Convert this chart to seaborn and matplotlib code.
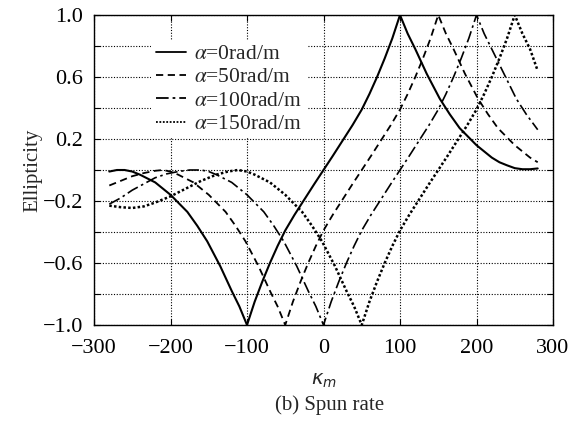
import numpy as np
import pandas as pd
import matplotlib
matplotlib.use("Agg")
import matplotlib.pyplot as plt
import seaborn as sns

# values
kappa_a0 = [-280, -270, -260, -250, -240, -230, -220, -210, -200, -190, -178, -165, -152, -135, -120, -110, -100,
            -90, -80, -70, -60, -50, -38, -25, -12, 0, 12, 25, 38, 50, 60, 70, 80, 90, 100,
            110, 120, 135, 152, 165, 178, 190, 200, 210, 220, 230, 240, 250, 260, 270, 280]
ell_a0 = [-0.01, 0.0, 0.0, -0.01, -0.03, -0.055, -0.08, -0.12, -0.16, -0.21, -0.27, -0.36, -0.46, -0.62, -0.78, -0.88, -1.0,
          -0.85, -0.72, -0.6, -0.49, -0.39, -0.29, -0.19, -0.09, 0.0, 0.09, 0.19, 0.29, 0.39, 0.49, 0.6, 0.72, 0.85, 1.0,
          0.88, 0.78, 0.62, 0.46, 0.36, 0.27, 0.21, 0.16, 0.12, 0.08, 0.05, 0.03, 0.012, 0.005, 0.005, 0.01]

kappa_a50 = [-280, -265, -250, -235, -220, -210, -200, -190, -180, -170, -160, -150, -140, -128, -115, -102, -85, -70, -60, -50,
             -40, -30, -20, -10, 0, 12, 25, 38, 50, 62, 75, 88, 100, 110, 120, 130, 140, 150,
             160, 170, 185, 202, 215, 228, 240, 250, 260, 270, 280]
ell_a50 = [-0.10, -0.07, -0.04, -0.02, -0.005, 0.0, -0.01, -0.03, -0.055, -0.08, -0.12, -0.16, -0.21, -0.27, -0.36, -0.46, -0.62, -0.78, -0.88, -1.0,
           -0.85, -0.72, -0.6, -0.49, -0.39, -0.29, -0.19, -0.09, 0.0, 0.09, 0.19, 0.29, 0.39, 0.49, 0.6, 0.72, 0.85, 1.0,
           0.88, 0.78, 0.62, 0.46, 0.36, 0.27, 0.21, 0.16, 0.12, 0.08, 0.05]

kappa_a100 = [-280, -265, -250, -235, -220, -205, -190, -175, -160, -150, -140, -130, -120, -110, -100, -90, -78, -65, -52, -35, -20, -10, 0,
              10, 20, 30, 40, 50, 62, 75, 88, 100, 112, 125, 138, 150, 160, 170, 180, 190, 200,
              210, 220, 236, 252, 265, 280]
ell_a100 = [-0.22, -0.18, -0.13, -0.09, -0.05, -0.025, -0.01, 0.0, 0.0, -0.01, -0.03, -0.055, -0.08, -0.12, -0.16, -0.21, -0.27, -0.36, -0.46, -0.62, -0.78, -0.88, -1.0,
            -0.85, -0.72, -0.6, -0.49, -0.39, -0.29, -0.19, -0.09, 0.0, 0.09, 0.19, 0.29, 0.39, 0.49, 0.6, 0.72, 0.85, 1.0,
            0.88, 0.78, 0.62, 0.46, 0.36, 0.26]

kappa_a150 = [-280, -265, -250, -235, -220, -200, -180, -160, -140, -125, -112, -100, -90, -80, -70, -60, -50,
              -40, -28, -15, -2, 15, 30, 40, 50, 60, 70, 80, 90, 100, 112, 125, 138, 150, 162, 175, 188, 200,
              210, 220, 230, 240, 250, 260, 270, 280]
ell_a150 = [-0.23, -0.24, -0.245, -0.235, -0.21, -0.17, -0.12, -0.07, -0.03, -0.01, 0.0, -0.01, -0.03, -0.055, -0.08, -0.12, -0.16,
            -0.21, -0.27, -0.36, -0.46, -0.62, -0.78, -0.88, -1.0, -0.85, -0.72, -0.6, -0.49, -0.39, -0.29, -0.19, -0.09, 0.0, 0.09, 0.19, 0.29, 0.39,
            0.49, 0.6, 0.72, 0.85, 1.0, 0.88, 0.78, 0.64]

series_labels = [r"$\alpha$=0rad/m", r"$\alpha$=50rad/m", r"$\alpha$=100rad/m", r"$\alpha$=150rad/m"]
x_ticks = [-300, -200, -100, 0, 100, 200, 300]
y_ticks = [-1.0, -0.8, -0.6, -0.4, -0.2, 0.0, 0.2, 0.4, 0.6, 0.8, 1.0]
y_tick_labels = ["\u22121.0", "", "\u22120.6", "", "\u22120.2", "", "0.2", "", "0.6", "", "1.0"]


def build_frame():
    parts = []
    for lab, k, e in zip(series_labels,
                         [kappa_a0, kappa_a50, kappa_a100, kappa_a150],
                         [ell_a0, ell_a50, ell_a100, ell_a150]):
        parts.append(pd.DataFrame({"kappa": k, "ell": e, "alpha": lab}))
    return pd.concat(parts, ignore_index=True)


def main():
    df = build_frame()

    sns.set_style("ticks")
    plt.rcParams["font.family"] = ["Liberation Serif", "DejaVu Serif"]
    plt.rcParams["mathtext.fontset"] = "stix"

    fig = plt.figure(figsize=(5.75, 4.25), dpi=100)
    ax = fig.add_axes([94 / 575, 1 - 325 / 425, 459 / 575, 310 / 425])

    dash_styles = {
        series_labels[0]: "",
        series_labels[1]: (4, 2.5),
        series_labels[2]: (7, 2.2, 1.5, 2.2),
        series_labels[3]: (1, 0.9),
    }
    sns.lineplot(data=df, x="kappa", y="ell", hue="alpha", style="alpha",
                 hue_order=series_labels, style_order=series_labels,
                 palette=["black"] * 4, dashes=dash_styles,
                 estimator=None, sort=False, linewidth=1.3, ax=ax)
    widths = [1.5, 1.3, 1.2, 1.8]
    for line, w in zip(ax.lines[:4], widths):
        line.set_linewidth(w)

    ax.set_xlim(-300, 300)
    ax.set_ylim(-1.0, 1.0)
    ax.set_xticks(x_ticks)
    ax.set_yticks(y_ticks)
    ax.set_yticklabels(y_tick_labels)
    ax.tick_params(direction="in", top=True, right=True, length=4, width=0.8,
                   labelsize=16, colors="black")
    ax.tick_params(axis="y", pad=8)
    ax.tick_params(axis="x", pad=10)
    ax.grid(True, color="black", linestyle=(0, (1, 1.5)), linewidth=0.8)
    ax.set_axisbelow(True)
    for sp in ax.spines.values():
        sp.set_color("black")
        sp.set_linewidth(1.0)

    ax.set_ylabel("Ellipticity", fontsize=15, labelpad=0)
    ax.set_xlabel(r"$\kappa_m$", fontsize=14, labelpad=10, math_fontfamily="dejavusans")

    handles, labels = ax.get_legend_handles_labels()
    leg = ax.legend(handles[:4], labels[:4], loc="upper left",
                    bbox_to_anchor=(0.125, 0.92), frameon=True, fontsize=15.5,
                    handlelength=1.4, handletextpad=0.4, labelspacing=0.15,
                    borderpad=0.2, borderaxespad=0.0)
    leg.get_frame().set_facecolor("white")
    leg.get_frame().set_edgecolor("none")
    leg.get_frame().set_alpha(1.0)

    fig.text(330 / 575, 1 - 405 / 425, "(b) Spun rate", ha="center", va="center", fontsize=15)

    fig.savefig("out.png", dpi=100)


if __name__ == "__main__":
    main()
